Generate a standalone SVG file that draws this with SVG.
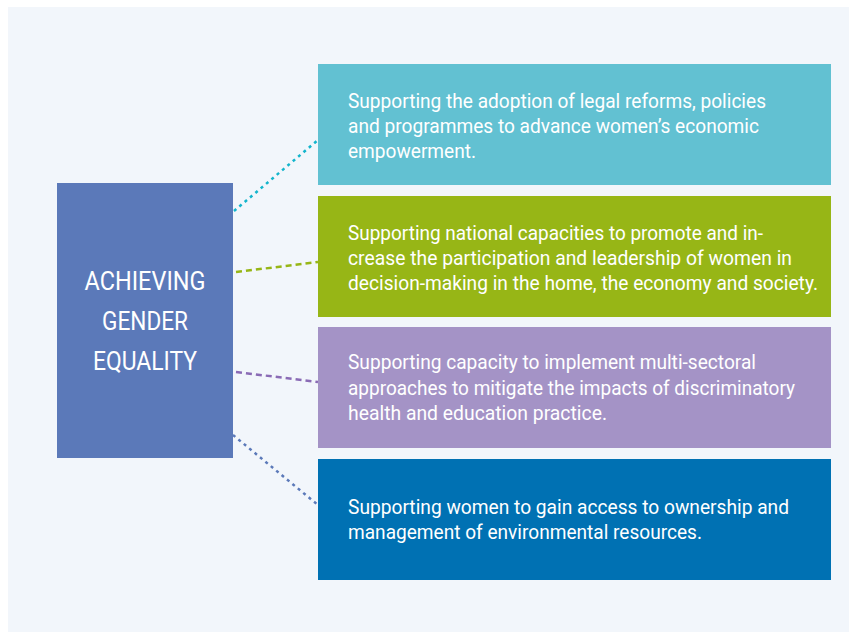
<svg xmlns="http://www.w3.org/2000/svg" width="858" height="633" viewBox="0 0 858 633">
<style>
  .box text { font-family: Roboto, "Liberation Sans", sans-serif; fill: #ffffff; font-size: 21px; }
  .hub text { font-family: Roboto, "Liberation Sans", sans-serif; fill: #ffffff; font-size: 25px; text-anchor: middle; }
  .conn line { fill: none; stroke-width: 2.5; }
  .dot { stroke-dasharray: 3 4; }
  .dash { stroke-dasharray: 6 4; }
</style>
<rect x="0" y="0" width="858" height="633" fill="#ffffff"/>
<rect x="8" y="7" width="841" height="625" fill="#F2F6FB"/>
<g class="conn" id="connectors">
  <line class="dot" x1="234" y1="211" x2="318" y2="140" stroke="#13B5CC"/>
  <line class="dash" x1="236" y1="272" x2="318" y2="262" stroke="#97B616"/>
  <line class="dash" x1="236" y1="372" x2="318" y2="382" stroke="#8A6BB5"/>
  <line class="dot" x1="233" y1="435" x2="318" y2="505" stroke="#5B79B9"/>
</g>
<g class="hub" id="hub">
  <rect x="57" y="183" width="176" height="275" fill="#5B79B9"/>
  <text x="145" y="290" textLength="121" lengthAdjust="spacingAndGlyphs">ACHIEVING</text>
  <text x="145" y="330" textLength="86" lengthAdjust="spacingAndGlyphs">GENDER</text>
  <text x="145" y="370" textLength="104" lengthAdjust="spacingAndGlyphs">EQUALITY</text>
</g>
<g class="box" id="box1">
  <rect x="318" y="64" width="513" height="121" fill="#62C1D2"/>
  <text x="348" y="108" textLength="418" lengthAdjust="spacingAndGlyphs">Supporting the adoption of legal reforms, policies</text>
  <text x="348" y="133" textLength="411" lengthAdjust="spacingAndGlyphs">and programmes to advance women’s economic</text>
  <text x="348" y="158" textLength="128" lengthAdjust="spacingAndGlyphs">empowerment.</text>
</g>
<g class="box" id="box2">
  <rect x="318" y="196" width="513" height="121" fill="#97B616"/>
  <text x="348" y="240" textLength="415" lengthAdjust="spacingAndGlyphs">Supporting national capacities to promote and in-</text>
  <text x="348" y="265" textLength="444" lengthAdjust="spacingAndGlyphs">crease the participation and leadership of women in</text>
  <text x="348" y="290" textLength="470" lengthAdjust="spacingAndGlyphs">decision-making in the home, the economy and society.</text>
</g>
<g class="box" id="box3">
  <rect x="318" y="327" width="513" height="121" fill="#A493C6"/>
  <text x="348" y="369" textLength="408" lengthAdjust="spacingAndGlyphs">Supporting capacity to implement multi-sectoral</text>
  <text x="348" y="394.5" textLength="447" lengthAdjust="spacingAndGlyphs">approaches to mitigate the impacts of discriminatory</text>
  <text x="348" y="420" textLength="259" lengthAdjust="spacingAndGlyphs">health and education practice.</text>
</g>
<g class="box" id="box4">
  <rect x="318" y="459" width="513" height="121" fill="#0071B3"/>
  <text x="348" y="514" textLength="441" lengthAdjust="spacingAndGlyphs">Supporting women to gain access to ownership and</text>
  <text x="348" y="539" textLength="354" lengthAdjust="spacingAndGlyphs">management of environmental resources.</text>
</g>
</svg>
